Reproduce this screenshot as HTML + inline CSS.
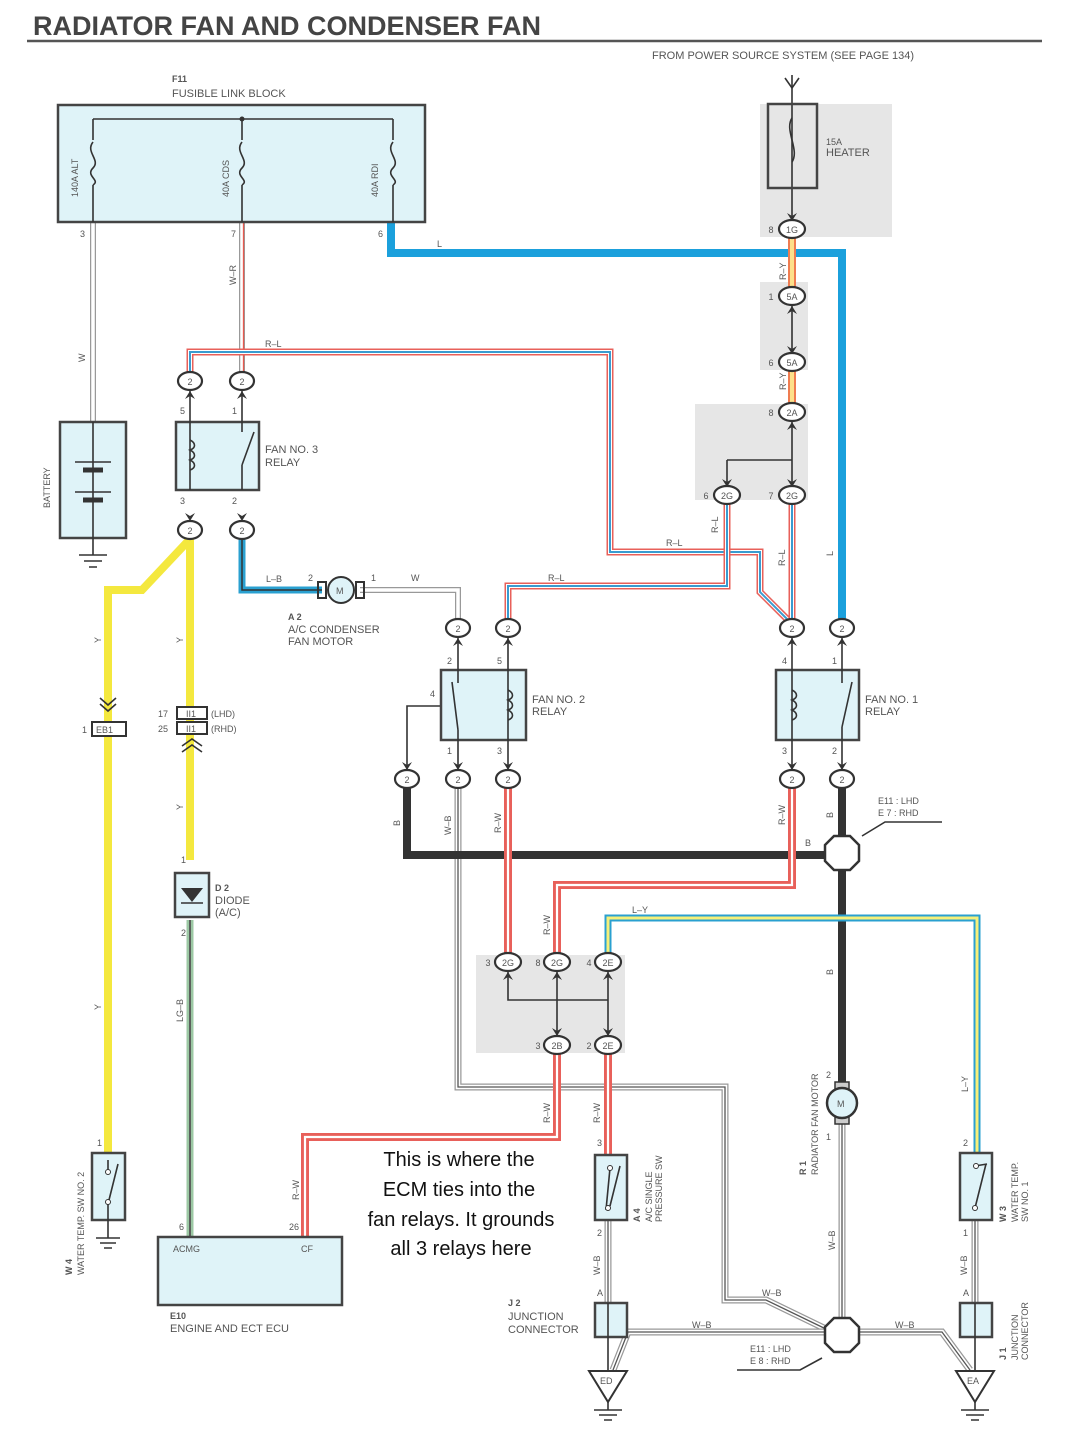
<!DOCTYPE html>
<html><head><meta charset="utf-8"><style>
html,body{margin:0;padding:0;background:#fff;}
svg{display:block;font-family:"Liberation Sans",sans-serif;}
.t{font-size:11px;fill:#555;}
.s{font-size:9px;fill:#555;}
.box{fill:#dff3f8;stroke:#444;stroke-width:2.5;}
.thin{stroke:#333;stroke-width:1.6;fill:none;}
</style></head><body>
<svg width="1080" height="1441" viewBox="0 0 1080 1441" xmlns="http://www.w3.org/2000/svg">
<defs>
<path id="wW3" d="M93 222 V422"/>
<path id="wWR" d="M242 222 V372"/>
<path id="wL" d="M391 222 V253 H842 V619"/>
<path id="wRL1" d="M190 372 V352 H610 V552 H760 V592 L788 620"/>
<path id="wRL2" d="M792 503 V619"/>
<path id="wRL3" d="M727 503 V586 H508 V619"/>
<path id="wRY" d="M792 237 V287 M792 370 V404"/>
<path id="wLB" d="M242 539 V590 H322"/>
<path id="wWm" d="M360 590 H458 V619"/>
<path id="wY1" d="M190 539 L142 590 H108 V1153"/>
<path id="wY2" d="M190 539 V860"/>
<path id="wLG" d="M190 920 V1237"/>
<path id="wB" d="M407 788 V855 H828"/>
<path id="wB2" d="M842 788 V1090"/>
<path id="wRW1" d="M508 788 V953"/>
<path id="wRW2" d="M792 788 V885 H557 V953"/>
<path id="wLY" d="M608 953 V918 H977 V1153"/>
<path id="wRW3" d="M557 1054 V1137 H305 V1237"/>
<path id="wRW4" d="M608 1054 V1155"/>
<path id="wWB1" d="M458 788 V1087 H725 V1300 H766 L828 1330"/>
<path id="wWB2" d="M613 1370 L628 1332 H828"/>
<path id="wWB3" d="M856 1332 H942 L970 1370"/>
<path id="wWB4" d="M842 1124 V1320"/>
<path id="wWB5" d="M608 1220 V1303 M975 1220 V1303"/>
<path id="ah" d="M-5 -8 L0 0 L5 -8 L0 -5 Z"/>
</defs>

<!-- title -->
<text x="33" y="35" style="font-size:27px;font-weight:bold;fill:#444">RADIATOR FAN AND CONDENSER FAN</text>
<line x1="27" y1="41" x2="1042" y2="41" stroke="#555" stroke-width="2.5"/>
<text x="652" y="59" class="t">FROM POWER SOURCE SYSTEM (SEE PAGE 134)</text>

<!-- gray shaded areas -->
<rect x="760" y="104" width="132" height="133" fill="#e6e6e6"/>
<rect x="760" y="282" width="48" height="88" fill="#e6e6e6"/>
<rect x="695" y="404" width="113" height="96" fill="#e6e6e6"/>
<rect x="476" y="955" width="149" height="98" fill="#e6e6e6"/>

<!-- wires -->
<g fill="none" stroke-linejoin="miter">
<use href="#wW3" stroke="#999" stroke-width="6"/><use href="#wW3" stroke="#fff" stroke-width="3.5"/>
<use href="#wWR" stroke="#999" stroke-width="6"/><use href="#wWR" stroke="#fff" stroke-width="3.5"/><use href="#wWR" stroke="#e85a50" stroke-width="1.3" transform="translate(1.5,0)"/>
<use href="#wL" stroke="#1ba0dc" stroke-width="8"/>
<use href="#wRL1" stroke="#e8605a" stroke-width="7"/><use href="#wRL1" stroke="#fff" stroke-width="4"/><use href="#wRL1" stroke="#3a9bd0" stroke-width="2"/>
<use href="#wRL2" stroke="#e8605a" stroke-width="7"/><use href="#wRL2" stroke="#fff" stroke-width="4"/><use href="#wRL2" stroke="#3a9bd0" stroke-width="2"/>
<use href="#wRL3" stroke="#e8605a" stroke-width="7"/><use href="#wRL3" stroke="#fff" stroke-width="4"/><use href="#wRL3" stroke="#3a9bd0" stroke-width="2"/>
<use href="#wRY" stroke="#ef7c50" stroke-width="8"/><use href="#wRY" stroke="#fde08a" stroke-width="4"/>
<use href="#wLB" stroke="#2aa0d0" stroke-width="7"/><use href="#wLB" stroke="#333" stroke-width="1.5"/>
<use href="#wWm" stroke="#999" stroke-width="6"/><use href="#wWm" stroke="#fff" stroke-width="3.5"/>
<use href="#wY1" stroke="#f4e83e" stroke-width="8"/>
<use href="#wY2" stroke="#f4e83e" stroke-width="8"/>
<use href="#wLG" stroke="#9cc8a4" stroke-width="7"/><use href="#wLG" stroke="#555" stroke-width="1.8"/>
<use href="#wWB1" stroke="#999" stroke-width="7"/><use href="#wWB1" stroke="#fff" stroke-width="4.5"/><use href="#wWB1" stroke="#555" stroke-width="1.3"/>
<use href="#wWB2" stroke="#999" stroke-width="7"/><use href="#wWB2" stroke="#fff" stroke-width="4.5"/><use href="#wWB2" stroke="#555" stroke-width="1.3"/>
<use href="#wWB3" stroke="#999" stroke-width="7"/><use href="#wWB3" stroke="#fff" stroke-width="4.5"/><use href="#wWB3" stroke="#555" stroke-width="1.3"/>
<use href="#wWB4" stroke="#999" stroke-width="7"/><use href="#wWB4" stroke="#fff" stroke-width="4.5"/><use href="#wWB4" stroke="#555" stroke-width="1.3"/>
<use href="#wWB5" stroke="#999" stroke-width="7"/><use href="#wWB5" stroke="#fff" stroke-width="4.5"/><use href="#wWB5" stroke="#555" stroke-width="1.3"/>
<use href="#wB" stroke="#333" stroke-width="8"/>
<use href="#wB2" stroke="#333" stroke-width="8"/>
<use href="#wRW1" stroke="#e8605a" stroke-width="8"/><use href="#wRW1" stroke="#fff" stroke-width="2.2"/>
<use href="#wRW2" stroke="#e8605a" stroke-width="8"/><use href="#wRW2" stroke="#fff" stroke-width="2.2"/>
<use href="#wRW3" stroke="#e8605a" stroke-width="8"/><use href="#wRW3" stroke="#fff" stroke-width="2.2"/>
<use href="#wRW4" stroke="#e8605a" stroke-width="8"/><use href="#wRW4" stroke="#fff" stroke-width="2.2"/>
<use href="#wLY" stroke="#2aa0d0" stroke-width="7"/><use href="#wLY" stroke="#f5f07a" stroke-width="3"/>
<path d="M792 75 V229 M792 300 V355 M792 416 V490 M727 460 H792 M727 460 V490" class="thin"/>
<path d="M785 78 L792 88 L799 78" class="thin"/>
<path d="M508 970 V1000 H608 M557 970 V1038 M608 970 V1038" class="thin"/>
<path d="M441 706 H407 V772" class="thin"/>
</g>

<!-- arrowheads (down = default, up = rotate 180) -->
<g fill="#333">
<use href="#ah" transform="translate(792,221)"/>
<use href="#ah" transform="translate(792,306) rotate(180)"/>
<use href="#ah" transform="translate(792,354)"/>
<use href="#ah" transform="translate(792,422) rotate(180)"/>
<use href="#ah" transform="translate(727,487)"/><use href="#ah" transform="translate(792,487)"/>
<use href="#ah" transform="translate(190,391) rotate(180)"/><use href="#ah" transform="translate(242,391) rotate(180)"/>
<use href="#ah" transform="translate(190,521)"/><use href="#ah" transform="translate(242,521)"/>
<use href="#ah" transform="translate(458,638) rotate(180)"/><use href="#ah" transform="translate(508,638) rotate(180)"/>
<use href="#ah" transform="translate(792,638) rotate(180)"/><use href="#ah" transform="translate(842,638) rotate(180)"/>
<use href="#ah" transform="translate(407,770)"/><use href="#ah" transform="translate(458,770)"/><use href="#ah" transform="translate(508,770)"/>
<use href="#ah" transform="translate(792,770)"/><use href="#ah" transform="translate(842,770)"/>
<use href="#ah" transform="translate(508,972) rotate(180)"/><use href="#ah" transform="translate(557,972) rotate(180)"/><use href="#ah" transform="translate(608,972) rotate(180)"/>
<use href="#ah" transform="translate(557,1036)"/><use href="#ah" transform="translate(608,1036)"/>
</g>

<!-- fusible link block -->
<text x="172" y="82" class="s" style="font-weight:bold">F11</text>
<text x="172" y="97" class="t">FUSIBLE LINK BLOCK</text>
<rect x="58" y="105" width="367" height="117" class="box"/>
<path d="M93 119 H393 M93 119 V140 M242 119 V140 M393 119 V140 M93 185 V222 M242 185 V222 M393 185 V222" class="thin"/>
<circle cx="242" cy="119" r="2.5" fill="#333"/>
<g class="thin" stroke-width="2.5">
<path d="M93 142 C85 152 101 160 93 168 C85 176 101 180 93 185"/>
<path d="M242 142 C234 152 250 160 242 168 C234 176 250 180 242 185"/>
<path d="M393 142 C385 152 401 160 393 168 C385 176 401 180 393 185"/>
</g>
<text transform="translate(78,197) rotate(-90)" class="s">140A ALT</text>
<text transform="translate(229,197) rotate(-90)" class="s">40A CDS</text>
<text transform="translate(378,197) rotate(-90)" class="s">40A RDI</text>
<text x="80" y="237" class="s">3</text><text x="231" y="237" class="s">7</text><text x="378" y="237" class="s">6</text>
<text x="437" y="247" class="s">L</text>
<text transform="translate(236,285) rotate(-90)" class="s">W–R</text>
<text transform="translate(85,362) rotate(-90)" class="s">W</text>
<text x="265" y="347" class="s">R–L</text>

<!-- heater fuse -->
<rect x="768" y="104" width="49" height="84" fill="none" stroke="#444" stroke-width="2.5"/>
<path d="M792 118 C784 130 800 150 792 162" class="thin" stroke-width="2"/>
<text x="826" y="145" class="s">15A</text><text x="826" y="156" class="t">HEATER</text>
<text transform="translate(786,280) rotate(-90)" class="s">R–Y</text>
<text transform="translate(786,390) rotate(-90)" class="s">R–Y</text>

<!-- battery -->
<rect x="60" y="422" width="66" height="116" class="box"/>
<path d="M93 422 V538 M75 462 H111 M75 492 H111" class="thin"/>
<path d="M83 470 H103 M83 500 H103" stroke="#333" stroke-width="5"/>
<path d="M93 538 V555 M79 555 H107 M84 561 H102 M89 567 H97" class="thin"/>
<text transform="translate(50,508) rotate(-90)" class="s">BATTERY</text>

<!-- fan no.3 relay -->
<rect x="176" y="422" width="83" height="68" class="box"/>
<path d="M190 390 V490 M242 390 V432 M242 465 V490 M242 465 L254 432" class="thin"/>
<path d="M190 440 c6 3 6 8 0 10 c6 3 6 8 0 10 c6 3 6 8 0 10" class="thin" fill="#dff3f8"/>
<text x="265" y="453" class="t">FAN NO. 3</text><text x="265" y="466" class="t">RELAY</text>
<text x="180" y="414" class="s">5</text><text x="232" y="414" class="s">1</text>
<text x="180" y="504" class="s">3</text><text x="232" y="504" class="s">2</text>

<!-- A2 motor -->
<rect x="318" y="582" width="8" height="16" fill="none" stroke="#333" stroke-width="2"/>
<rect x="356" y="582" width="8" height="16" fill="none" stroke="#333" stroke-width="2"/>
<circle cx="341" cy="590" r="13" fill="#dff3f8" stroke="#333" stroke-width="2"/>
<text x="336" y="594" class="s">M</text>
<text x="266" y="582" class="s">L–B</text><text x="308" y="581" class="s">2</text><text x="371" y="581" class="s">1</text><text x="411" y="581" class="s">W</text>
<text x="288" y="620" class="s" style="font-weight:bold">A 2</text>
<text x="288" y="633" class="t">A/C CONDENSER</text><text x="288" y="645" class="t">FAN MOTOR</text>

<!-- fan no.2 relay -->
<rect x="441" y="670" width="85" height="70" class="box"/>
<path d="M458 636 V683 M458 730 V770 M458 730 L452 682 M508 636 V770" class="thin"/>
<path d="M508 690 c6 3 6 8 0 10 c6 3 6 8 0 10 c6 3 6 8 0 10" class="thin" fill="#dff3f8"/>
<text x="532" y="703" class="t">FAN NO. 2</text><text x="532" y="715" class="t">RELAY</text>
<text x="447" y="664" class="s">2</text><text x="497" y="664" class="s">5</text><text x="430" y="697" class="s">4</text>
<text x="447" y="754" class="s">1</text><text x="497" y="754" class="s">3</text>

<!-- fan no.1 relay -->
<rect x="776" y="670" width="83" height="70" class="box"/>
<path d="M792 636 V770 M842 636 V683 M842 727 V770 M842 727 L852 682" class="thin"/>
<path d="M792 690 c6 3 6 8 0 10 c6 3 6 8 0 10 c6 3 6 8 0 10" class="thin" fill="#dff3f8"/>
<text x="865" y="703" class="t">FAN NO. 1</text><text x="865" y="715" class="t">RELAY</text>
<text x="782" y="664" class="s">4</text><text x="832" y="664" class="s">1</text>
<text x="782" y="754" class="s">3</text><text x="832" y="754" class="s">2</text>

<!-- connectors -->
<g fill="#fff" stroke="#333" stroke-width="2.2">
<ellipse cx="190" cy="381" rx="12" ry="9"/><ellipse cx="242" cy="381" rx="12" ry="9"/>
<ellipse cx="190" cy="530" rx="12" ry="9"/><ellipse cx="242" cy="530" rx="12" ry="9"/>
<ellipse cx="458" cy="628" rx="12" ry="9"/><ellipse cx="508" cy="628" rx="12" ry="9"/>
<ellipse cx="792" cy="628" rx="12" ry="9"/><ellipse cx="842" cy="628" rx="12" ry="9"/>
<ellipse cx="407" cy="779" rx="12" ry="9"/><ellipse cx="458" cy="779" rx="12" ry="9"/><ellipse cx="508" cy="779" rx="12" ry="9"/>
<ellipse cx="792" cy="779" rx="12" ry="9"/><ellipse cx="842" cy="779" rx="12" ry="9"/>
<ellipse cx="792" cy="229" rx="13" ry="9"/><ellipse cx="792" cy="296" rx="13" ry="9"/><ellipse cx="792" cy="362" rx="13" ry="9"/>
<ellipse cx="792" cy="412" rx="13" ry="9"/><ellipse cx="727" cy="495" rx="13" ry="9"/><ellipse cx="792" cy="495" rx="13" ry="9"/>
<ellipse cx="508" cy="962" rx="13" ry="9"/><ellipse cx="557" cy="962" rx="13" ry="9"/><ellipse cx="608" cy="962" rx="13" ry="9"/>
<ellipse cx="557" cy="1045" rx="13" ry="9"/><ellipse cx="608" cy="1045" rx="13" ry="9"/>
</g>
<g class="s" text-anchor="middle" style="font-size:9px;fill:#555">
<text x="190" y="385">2</text><text x="242" y="385">2</text><text x="190" y="534">2</text><text x="242" y="534">2</text>
<text x="458" y="632">2</text><text x="508" y="632">2</text><text x="792" y="632">2</text><text x="842" y="632">2</text>
<text x="407" y="783">2</text><text x="458" y="783">2</text><text x="508" y="783">2</text><text x="792" y="783">2</text><text x="842" y="783">2</text>
<text x="792" y="233">1G</text><text x="792" y="300">5A</text><text x="792" y="366">5A</text><text x="792" y="416">2A</text>
<text x="727" y="499">2G</text><text x="792" y="499">2G</text>
<text x="508" y="966">2G</text><text x="557" y="966">2G</text><text x="608" y="966">2E</text>
<text x="557" y="1049">2B</text><text x="608" y="1049">2E</text>
<text x="771" y="233">8</text><text x="771" y="300">1</text><text x="771" y="366">6</text><text x="771" y="416">8</text>
<text x="706" y="499">6</text><text x="771" y="499">7</text>
<text x="488" y="966">3</text><text x="538" y="966">8</text><text x="589" y="966">4</text>
<text x="538" y="1049">3</text><text x="589" y="1049">2</text>
</g>

<!-- wire labels -->
<text x="666" y="546" class="s">R–L</text>
<text x="548" y="581" class="s">R–L</text>
<text transform="translate(718,533) rotate(-90)" class="s">R–L</text>
<text transform="translate(785,566) rotate(-90)" class="s">R–L</text>
<text transform="translate(833,556) rotate(-90)" class="s">L</text>
<text transform="translate(400,826) rotate(-90)" class="s">B</text>
<text transform="translate(451,835) rotate(-90)" class="s">W–B</text>
<text transform="translate(501,833) rotate(-90)" class="s">R–W</text>
<text transform="translate(785,825) rotate(-90)" class="s">R–W</text>
<text transform="translate(833,818) rotate(-90)" class="s">B</text>
<text x="805" y="846" class="s">B</text>
<text x="878" y="804" class="s">E11 : LHD</text><text x="878" y="816" class="s">E 7 : RHD</text>
<path d="M942 822 H885 L862 836" class="thin" stroke-width="1.2"/>
<text transform="translate(550,935) rotate(-90)" class="s">R–W</text>
<text x="632" y="913" class="s">L–Y</text>
<text transform="translate(833,975) rotate(-90)" class="s">B</text>
<text transform="translate(550,1123) rotate(-90)" class="s">R–W</text>
<text transform="translate(600,1123) rotate(-90)" class="s">R–W</text>
<text transform="translate(299,1200) rotate(-90)" class="s">R–W</text>
<text transform="translate(968,1092) rotate(-90)" class="s">L–Y</text>
<text transform="translate(101,643) rotate(-90)" class="s">Y</text>
<text transform="translate(183,643) rotate(-90)" class="s">Y</text>
<text transform="translate(183,810) rotate(-90)" class="s">Y</text>
<text transform="translate(101,1010) rotate(-90)" class="s">Y</text>
<text transform="translate(183,1022) rotate(-90)" class="s">LG–B</text>

<!-- EB1 / II1 -->
<path d="M100 698 L108 705 L116 698 M100 704 L108 711 L116 704" class="thin" stroke-width="2"/>
<rect x="92" y="722" width="34" height="14" fill="#fff" stroke="#333" stroke-width="2"/>
<text x="96" y="733" class="s">EB1</text><text x="82" y="733" class="s">1</text>
<rect x="177" y="707" width="30" height="12" fill="#fff" stroke="#333" stroke-width="2"/>
<rect x="177" y="722" width="30" height="12" fill="#fff" stroke="#333" stroke-width="2"/>
<text x="186" y="717" class="s">II1</text><text x="186" y="732" class="s">II1</text>
<text x="158" y="717" class="s">17</text><text x="158" y="732" class="s">25</text>
<text x="211" y="717" class="s">(LHD)</text><text x="211" y="732" class="s">(RHD)</text>
<path d="M182 746 L192 739 L202 746 M182 752 L192 745 L202 752" class="thin" stroke-width="2"/>

<!-- diode -->
<rect x="175" y="873" width="34" height="44" class="box"/>
<path d="M181 888 H203 L192 902 Z" fill="#333"/><path d="M181 903 H203" class="thin" stroke-width="2"/>
<text x="181" y="863" class="s">1</text><text x="181" y="936" class="s">2</text>
<text x="215" y="891" class="s" style="font-weight:bold">D 2</text>
<text x="215" y="904" class="t">DIODE</text><text x="215" y="916" class="t">(A/C)</text>

<!-- W4 switch -->
<rect x="92" y="1153" width="33" height="67" class="box"/>
<path d="M108 1160 V1170 M108 1204 V1238 M108 1204 L118 1164 M96 1238 H120 M100 1243 H116 M104 1248 H112" class="thin"/>
<circle cx="108" cy="1172" r="2.5" fill="#fff" stroke="#333"/><circle cx="108" cy="1202" r="2.5" fill="#fff" stroke="#333"/>
<text x="97" y="1146" class="s">1</text>
<text transform="translate(72,1275) rotate(-90)" class="s" style="font-weight:bold">W 4</text>
<text transform="translate(84,1275) rotate(-90)" class="s">WATER TEMP.  SW NO. 2</text>

<!-- ECU -->
<rect x="158" y="1237" width="184" height="68" class="box"/>
<text x="173" y="1252" class="s">ACMG</text><text x="301" y="1252" class="s">CF</text>
<text x="179" y="1230" class="s">6</text><text x="289" y="1230" class="s">26</text>
<text x="170" y="1319" class="s" style="font-weight:bold">E10</text>
<text x="170" y="1332" class="t">ENGINE AND ECT ECU</text>

<!-- annotation -->
<g style="font-size:20px;fill:#111" text-anchor="middle">
<text x="459" y="1166">This is where the</text>
<text x="459" y="1196">ECM ties into the</text>
<text x="461" y="1226">fan relays. It grounds</text>
<text x="461" y="1255">all 3 relays here</text>
</g>

<!-- A4 switch -->
<rect x="595" y="1155" width="32" height="65" class="box"/>
<path d="M610 1168 L606 1210 M610 1206 L620 1166" class="thin"/>
<circle cx="610" cy="1168" r="2.5" fill="#fff" stroke="#333"/><circle cx="608" cy="1208" r="2.5" fill="#fff" stroke="#333"/>
<text x="597" y="1146" class="s">3</text><text x="597" y="1236" class="s">2</text>
<text transform="translate(640,1222) rotate(-90)" class="s" style="font-weight:bold">A 4</text>
<text transform="translate(652,1222) rotate(-90)" class="s">A/C SINGLE</text>
<text transform="translate(662,1222) rotate(-90)" class="s">PRESSURE SW</text>
<text transform="translate(600,1275) rotate(-90)" class="s">W–B</text>
<text x="597" y="1296" class="s">A</text>

<!-- J2 -->
<rect x="595" y="1303" width="32" height="34" class="box"/>
<path d="M608 1303 V1390" class="thin"/>
<text x="508" y="1306" class="s" style="font-weight:bold">J 2</text>
<text x="508" y="1320" class="t">JUNCTION</text><text x="508" y="1333" class="t">CONNECTOR</text>
<path d="M589 1371 H627 L608 1402 Z" fill="#fff" stroke="#333" stroke-width="2"/>
<text x="600" y="1384" class="s">ED</text>
<path d="M608 1402 V1410 M594 1410 H622 M599 1415 H617 M604 1420 H612" class="thin"/>

<!-- ground octagons -->
<polygon points="834,836 850,836 859,845 859,861 850,870 834,870 825,861 825,845" fill="#fff" stroke="#333" stroke-width="2.5"/>
<polygon points="834,1318 850,1318 859,1327 859,1343 850,1352 834,1352 825,1343 825,1327" fill="#fff" stroke="#333" stroke-width="2.5"/>
<text x="692" y="1328" class="s">W–B</text><text x="762" y="1296" class="s">W–B</text><text x="895" y="1328" class="s">W–B</text>
<text x="750" y="1352" class="s">E11 : LHD</text><text x="750" y="1364" class="s">E 8 : RHD</text>
<path d="M737 1370 H800 L822 1358" class="thin" stroke-width="1.2"/>

<!-- R1 motor -->
<rect x="835" y="1082" width="14" height="8" fill="#ccc" stroke="#333" stroke-width="1.5"/>
<rect x="835" y="1116" width="14" height="8" fill="#ccc" stroke="#333" stroke-width="1.5"/>
<circle cx="842" cy="1103" r="15" fill="#dff3f8" stroke="#333" stroke-width="2.5"/>
<text x="837" y="1107" class="s">M</text>
<text x="826" y="1078" class="s">2</text><text x="826" y="1140" class="s">1</text>
<text transform="translate(806,1175) rotate(-90)" class="s" style="font-weight:bold">R 1</text>
<text transform="translate(818,1175) rotate(-90)" class="s">RADIATOR FAN MOTOR</text>
<text transform="translate(835,1250) rotate(-90)" class="s">W–B</text>

<!-- W3 switch -->
<rect x="960" y="1153" width="32" height="67" class="box"/>
<path d="M975 1166 L987 1164 M975 1208 L986 1164" class="thin"/>
<circle cx="976" cy="1166" r="2.5" fill="#fff" stroke="#333"/><circle cx="975" cy="1208" r="2.5" fill="#fff" stroke="#333"/>
<text x="963" y="1146" class="s">2</text><text x="963" y="1236" class="s">1</text>
<text transform="translate(1006,1222) rotate(-90)" class="s" style="font-weight:bold">W 3</text>
<text transform="translate(1018,1222) rotate(-90)" class="s">WATER TEMP.</text>
<text transform="translate(1028,1222) rotate(-90)" class="s">SW NO. 1</text>
<text transform="translate(967,1275) rotate(-90)" class="s">W–B</text>
<text x="963" y="1296" class="s">A</text>

<!-- J1 -->
<rect x="960" y="1303" width="32" height="34" class="box"/>
<path d="M975 1303 V1390" class="thin"/>
<text transform="translate(1006,1360) rotate(-90)" class="s" style="font-weight:bold">J 1</text>
<text transform="translate(1018,1360) rotate(-90)" class="s">JUNCTION</text>
<text transform="translate(1028,1360) rotate(-90)" class="s">CONNECTOR</text>
<path d="M956 1371 H994 L975 1402 Z" fill="#fff" stroke="#333" stroke-width="2"/>
<text x="967" y="1384" class="s">EA</text>
<path d="M975 1402 V1410 M961 1410 H989 M966 1415 H984 M971 1420 H979" class="thin"/>
</svg>
</body></html>
